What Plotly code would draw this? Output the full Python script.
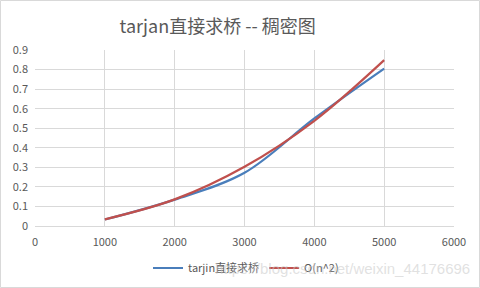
import plotly.graph_objects as go

n_values = [1000, 2000, 3000, 4000, 5000]
tarjan_times = [0.033, 0.135, 0.272, 0.55, 0.805]
on2_times = [0.034, 0.136, 0.303, 0.538, 0.848]
series_names = ["tarjin直接求桥", "O(n^2)"]
title_text = "tarjan直接求桥 -- 稠密图"
watermark = "https://blog.csdn.net/weixin_44176696"

W, H = 480, 288
ML, MR, MT, MB = 35, 26, 50, 62
FONT = "Noto Sans CJK SC, Noto Sans, sans-serif"
GRAY = "#595959"

fig = go.Figure()
fig.add_trace(go.Scatter(x=n_values, y=tarjan_times, name=series_names[0], mode="lines",
                         line=dict(color="#4a7ebb", width=2.2, shape="spline", smoothing=1.0)))
fig.add_trace(go.Scatter(x=n_values, y=on2_times, name=series_names[1], mode="lines",
                         line=dict(color="#c0504d", width=2.2, shape="spline", smoothing=1.0)))

pw, ph = W - ML - MR, H - MT - MB
def px(x):
    return (x - ML) / pw
def py(y):
    return (H - MB - y) / ph

fig.update_layout(
    width=W, height=H,
    margin=dict(l=ML, r=MR, t=MT, b=MB, autoexpand=False),
    paper_bgcolor="white", plot_bgcolor="white",
    font=dict(family=FONT, color=GRAY, size=11),
    title=dict(text=title_text, x=px(225), xanchor="center", y=1 - 27 / H, yanchor="middle",
               font=dict(size=18, color=GRAY, family=FONT)),
    xaxis=dict(range=[0, 6000], dtick=1000, tick0=0, showgrid=True, gridcolor="#d9d9d9", gridwidth=1,
               zeroline=False, showline=True, linecolor="#d9d9d9", mirror=False,
               ticks="", ticklabelstandoff=6, tickfont=dict(size=11, color=GRAY)),
    yaxis=dict(range=[0, 0.9], dtick=0.1, tick0=0, showgrid=True, gridcolor="#d9d9d9", gridwidth=1,
               zeroline=False, showline=False, ticks="", ticklabelstandoff=6,
               tickformat="~g", tickfont=dict(size=11, color=GRAY)),
    legend=dict(orientation="h", x=px(148), xanchor="left", y=py(268), yanchor="middle",
                font=dict(size=11, color=GRAY), bgcolor="rgba(0,0,0,0)", itemwidth=30,
                tracegroupgap=0),
    showlegend=True,
)

fig.add_annotation(text=watermark, xref="paper", yref="paper", x=px(472), y=py(268),
                   xanchor="right", yanchor="middle", showarrow=False,
                   font=dict(size=15, color="rgba(200,200,200,0.55)", family="Liberation Sans, Arial"))

fig.add_shape(type="rect", xref="paper", yref="paper",
              x0=px(0.5), x1=px(W - 0.5), y0=py(H - 0.5), y1=py(0.5),
              line=dict(color="#d9d9d9", width=1), fillcolor="rgba(0,0,0,0)", layer="below")

fig.write_html("out.html")
